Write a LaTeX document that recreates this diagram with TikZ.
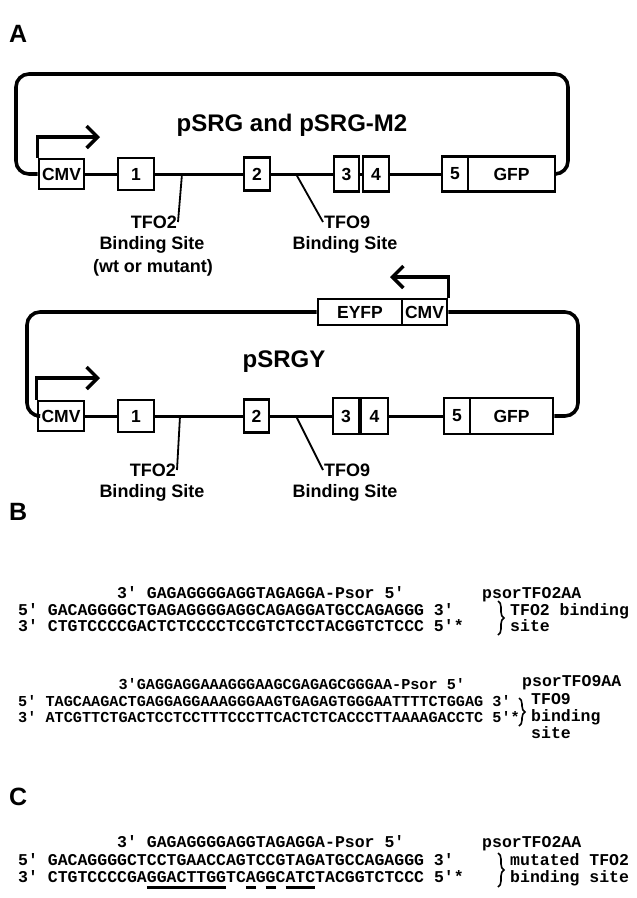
\documentclass[tikz,border=0pt]{standalone}
\usepackage{fontspec}
\setmainfont{Liberation Serif}
\newfontfamily\plasfont{Liberation Sans}
\newfontfamily\seqfont{Liberation Mono}
\usetikzlibrary{positioning,calc,arrows.meta,decorations.pathreplacing}

\newcommand\prm{\textquotesingle}
\newcommand\mutul[1]{\setbox0\hbox{#1}\rlap{\rule[-6pt]{\wd0}{2.2pt}}\box0}

\begin{document}
\begin{tikzpicture}[x=1pt, y=-1pt]
        \tikzset{
            plasmid/.style={line width=3.6pt, rounded corners=13pt},
            backbone/.style={line width=3pt},
            exon/.style={draw, line width=2.6pt, fill=white, inner sep=0pt, font=\plasfont\bfseries\fontsize{17.5}{20}\selectfont},
            promoter/.style={line width=3.4pt, -{Straight Barb[length=11pt,width=22pt]}},
            pointer/.style={line width=1.8pt},
            sitelbl/.style={font=\plasfont\bfseries\fontsize{18}{21}\selectfont, inner sep=1pt},
            titlelbl/.style={font=\plasfont\bfseries\fontsize{24}{27}\selectfont},
            panel/.style={font=\plasfont\bfseries\fontsize{25}{28}\selectfont, anchor=west, inner sep=0pt},
            seq/.style={font=\seqfont\bfseries\fontsize{16.5}{18}\selectfont, anchor=base west, inner sep=0pt},
            seqB/.style={font=\seqfont\bfseries\fontsize{15.2}{17}\selectfont, anchor=base west, inner sep=0pt},
            duplex/.style={decorate, decoration={brace, amplitude=6pt}, line width=1.6pt}
        }
        \useasboundingbox[fill=white] (0,0) rectangle (637,898);

        % A: pSRG and pSRG-M2
        \node[panel] (pA) at (9,34) {A};
        \node[titlelbl] (tA) at (292,125) {pSRG and pSRG-M2};
        \node[exon, minimum width=45pt, minimum height=30pt] (cmvA) at (61.5,174) {CMV};
        \node[exon, minimum width=36pt, minimum height=32pt] (a1) at (136,174) {1};
        \node[exon, minimum width=26pt, minimum height=33pt] (a2) at (257,174) {2};
        \node[exon, minimum width=25pt, minimum height=35pt] (a3) at (346.5,174) {3};
        \node[exon, minimum width=26pt, minimum height=35pt] (a4) at (376,174) {4};
        \node[exon, minimum width=26pt, minimum height=35pt] (a5) at (455,174) {5};
        \node[exon, minimum width=87pt, minimum height=35pt] (gfpA) at (511.5,174) {GFP};
        \coordinate (tlA) at (16,74);
        \coordinate (brA) at (568,174);
        \coordinate (pA1) at (100,137);
        \coordinate (s2A) at (182,174);
        \coordinate (s9A) at (296,174);
        \draw[plasmid] (cmvA.west) -| (tlA) -| (brA) -- (gfpA.east);
        \draw[backbone] (cmvA) -- (a1) -- (a2) -- (a3) -- (a4);
        \draw[backbone] (a4) -- (a5);
        \draw[promoter] (cmvA.north west) |- (pA1);
        \node[sitelbl, anchor=east] (tfo2A) at (178,222) {TFO2};
        \node[sitelbl] (bind2A) at (152,245) {Binding Site};
        \node[sitelbl] (wtA) at (153,268) {(wt or mutant)};
        \node[sitelbl, anchor=west] (tfo9A) at (323,222) {TFO9};
        \node[sitelbl] (bind9A) at (345,245) {Binding Site};
        \draw[pointer] (s2A) -- (tfo2A.east);
        \draw[pointer] (s9A) -- (tfo9A.west);

        % A: pSRGY
        \node[titlelbl] (tY) at (284,362) {pSRGY};
        \node[exon, minimum width=84pt, minimum height=26pt] (eyfp) at (360,312) {EYFP};
        \node[exon, minimum width=45pt, minimum height=26pt] (cmvY) at (424.5,312) {CMV};
        \node[exon, minimum width=46pt, minimum height=30pt] (cmvB) at (61,416) {CMV};
        \node[exon, minimum width=36pt, minimum height=32pt] (y1) at (136,416) {1};
        \node[exon, minimum width=25pt, minimum height=33pt] (y2) at (256.5,416) {2};
        \node[exon, minimum width=26pt, minimum height=36pt] (y3) at (346,416) {3};
        \node[exon, minimum width=27pt, minimum height=36pt] (y4) at (374.5,416) {4};
        \node[exon, minimum width=26pt, minimum height=36pt] (y5) at (457,416) {5};
        \node[exon, minimum width=83pt, minimum height=36pt] (gfpY) at (511.5,416) {GFP};
        \coordinate (tlY) at (27,312);
        \coordinate (brY) at (578,416);
        \coordinate (pY1) at (100,378);
        \coordinate (pY2) at (390,277);
        \coordinate (s2Y) at (180,416);
        \coordinate (s9Y) at (296,416);
        \draw[plasmid] (cmvB.west) -| (tlY) -- (eyfp.west);
        \draw[plasmid] (cmvY.east) -| (brY) -- (gfpY.east);
        \draw[backbone] (cmvB) -- (y1) -- (y2) -- (y3) -- (y4);
        \draw[backbone] (y4) -- (y5);
        \draw[promoter] (cmvB.north west) |- (pY1);
        \draw[promoter] (cmvY.north east) |- (pY2);
        \node[sitelbl, anchor=east] (tfo2Y) at (177,470) {TFO2};
        \node[sitelbl] (bind2Y) at (152,493) {Binding Site};
        \node[sitelbl, anchor=west] (tfo9Y) at (323,470) {TFO9};
        \node[sitelbl] (bind9Y) at (345,493) {Binding Site};
        \draw[pointer] (s2Y) -- (tfo2Y.east);
        \draw[pointer] (s9Y) -- (tfo9Y.west);

        % B: TFO2 and TFO9 target sites
        \node[panel] (pB) at (9,512) {B};
        \node[seq] (b1tfo) at (18,598.5) {\hphantom{GACAGGGGCT}3\prm{} GAGAGGGGAGGTAGAGGA-Psor 5\prm};
        \node[seq] (b1top) at (18,615.5) {5\prm{} GACAGGGGCTGAGAGGGGAGGCAGAGGATGCCAGAGGG 3\prm};
        \node[seq] (b1bot) at (18,631.5) {3\prm{} CTGTCCCCGACTCTCCCCTCCGTCTCCTACGGTCTCCC 5\prm*};
        \node[seq] (b1name) at (482,598.5) {psorTFO2AA};
        \node[seq] (b1lab) at (510,615.5) {TFO2 binding};
        \node[seq] (b1site) at (510,631.5) {site};
        \coordinate (b1u) at (498,601);
        \coordinate (b1d) at (498,635);
        \draw[duplex] (b1u) -- (b1d);

        \node[seqB] (b2tfo) at (18,689.5) {\hphantom{TAGCAAGACTG}3\prm GAGGAGGAAAGGGAAGCGAGAGCGGGAA-Psor 5\prm};
        \node[seqB] (b2top) at (18,706.5) {5\prm{} TAGCAAGACTGAGGAGGAAAGGGAAGTGAGAGTGGGAATTTTCTGGAG 3\prm};
        \node[seqB] (b2bot) at (18,722.5) {3\prm{} ATCGTTCTGACTCCTCCTTTCCCTTCACTCTCACCCTTAAAAGACCTC 5\prm*};
        \node[seq] (b2name) at (522,686) {psorTFO9AA};
        \node[seq] (b2lab) at (531,704) {TFO9};
        \node[seq] (b2bind) at (531,721) {binding};
        \node[seq] (b2site) at (531,738) {site};
        \coordinate (b2u) at (519,698);
        \coordinate (b2d) at (519,726);
        \draw[duplex] (b2u) -- (b2d);

        % C: mutated TFO2 site
        \node[panel] (pC) at (9,797) {C};
        \node[seq] (ctfo) at (18,847.5) {\hphantom{GACAGGGGCT}3\prm{} GAGAGGGGAGGTAGAGGA-Psor 5\prm};
        \node[seq] (ctop) at (18,865.5) {5\prm{} GACAGGGGCTCCTGAACCAGTCCGTAGATGCCAGAGGG 3\prm};
        \node[seq] (cbot) at (18,882.5) {3\prm{} CTGTCCCCGA\mutul{GGACTTGG}TC\mutul{A}G\mutul{G}C\mutul{ATC}TACGGTCTCCC 5\prm*};
        \node[seq] (cname) at (482,847.5) {psorTFO2AA};
        \node[seq] (clab) at (510,865.5) {mutated TFO2};
        \node[seq] (csite) at (510,882.5) {binding site};
        \coordinate (cu) at (498,853);
        \coordinate (cd) at (498,887);
        \draw[duplex] (cu) -- (cd);
    \end{tikzpicture}
\end{document}
